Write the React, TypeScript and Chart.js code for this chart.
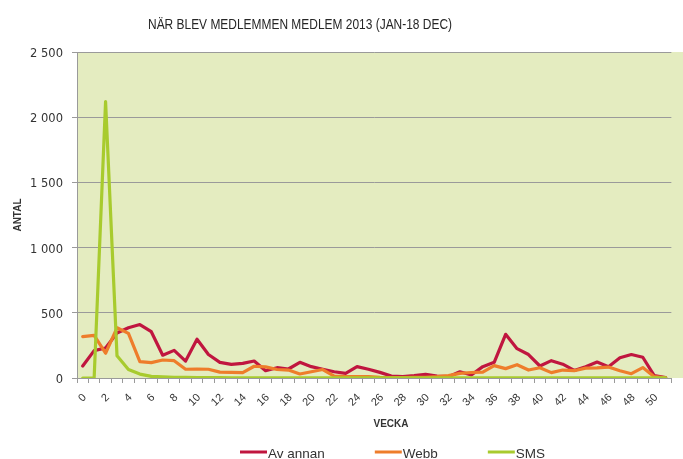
import React, { useEffect, useRef } from 'react';
import { Chart, registerables } from 'chart.js';

Chart.register(...registerables);

const weeks = ['0','1','2','3','4','5','6','7','8','9','10','11','12','13','14','15','16','17','18','19','20','21','22','23','24','25','26','27','28','29','30','31','32','33','34','35','36','37','38','39','40','41','42','43','44','45','46','47','48','49','50','51'];

const avAnnan = [92,210,230,345,385,410,355,175,212,130,297,180,120,105,112,130,56,79,69,120,87,67,48,36,87,67,43,15,10,18,28,15,10,48,23,87,120,335,225,180,92,133,106,58,87,122,87,155,180,159,18,3];
const webb = [317,327,190,385,342,125,118,138,133,67,69,67,45,43,41,90,85,65,61,31,48,65,15,10,10,10,5,3,3,5,5,10,18,35,42,45,95,72,102,61,79,41,61,56,76,77,84,56,33,80,10,2];
const sms = [0,0,2120,170,65,30,12,8,5,5,4,3,3,2,2,2,2,2,2,2,2,2,2,2,2,2,2,2,2,2,2,2,2,2,2,2,2,2,2,2,2,2,2,2,2,2,2,2,2,2,2,2];

const seriesNames = ['Av annan', 'Webb', 'SMS'];
const seriesColors = ['#C0163F', '#EE7D2B', '#A8CB2E'];

const yTickValues = [0, 500, 1000, 1500, 2000, 2500];
const yTickLabels = ['0', '500', '1 000', '1 500', '2 000', '2 500'];

const chartTitle = 'NÄR BLEV MEDLEMMEN MEDLEM 2013 (JAN-18 DEC)';
const xTitle = 'VECKA';
const yTitle = 'ANTAL';

const PLOT_BG = '#E4ECC0';
const GRID = '#9A9A9A';
const TEXT = '#333333';

const decorPlugin = {
  id: 'decor',
  beforeDraw(chart: any) {
    const { ctx, chartArea } = chart;
    ctx.save();
    ctx.fillStyle = '#ffffff';
    ctx.fillRect(0, 0, chart.width, chart.height);
    ctx.fillStyle = PLOT_BG;
    ctx.fillRect(chartArea.left, chartArea.top, chart.width - chartArea.left, chartArea.bottom - chartArea.top);
    ctx.restore();
  },
  afterDraw(chart: any) {
    const { ctx } = chart;
    ctx.save();
    // chart title (condensed look: horizontal scale of a regular font)
    ctx.fillStyle = '#262626';
    ctx.textAlign = 'center';
    ctx.textBaseline = 'alphabetic';
    ctx.font = '15px "Liberation Sans", sans-serif';
    const w = ctx.measureText(chartTitle).width;
    const sx = Math.min(1, 304 / w);
    ctx.save();
    ctx.translate(300, 29);
    ctx.scale(sx, 1);
    ctx.fillText(chartTitle, 0, 0);
    ctx.restore();
    // x axis title
    ctx.fillStyle = TEXT;
    ctx.font = 'bold 10px "Liberation Sans", sans-serif';
    ctx.textAlign = 'center';
    ctx.textBaseline = 'middle';
    ctx.fillText(xTitle, 391, 424);
    // legend
    ctx.font = '13.5px "Liberation Sans", sans-serif';
    ctx.textAlign = 'left';
    ctx.textBaseline = 'alphabetic';
    let x = 240;
    chart.data.datasets.forEach((ds: any) => {
      ctx.strokeStyle = ds.borderColor;
      ctx.lineWidth = 3;
      ctx.beginPath();
      ctx.moveTo(x, 452);
      ctx.lineTo(x + 27, 452);
      ctx.stroke();
      x += 28;
      ctx.fillStyle = TEXT;
      ctx.fillText(ds.label, x, 458);
      x += ctx.measureText(ds.label).width + 50;
    });
    ctx.restore();
  },
};

export default function App() {
  const ref = useRef<HTMLCanvasElement | null>(null);
  useEffect(() => {
    if (!ref.current) return;
    const series = [avAnnan, webb, sms];
    const chart = new Chart(ref.current, {
      type: 'line',
      data: {
        labels: weeks,
        datasets: series.map((d, i) => ({
          label: seriesNames[i],
          data: d,
          borderColor: seriesColors[i],
          backgroundColor: seriesColors[i],
          borderWidth: 3.2,
          pointRadius: 0,
          tension: 0,
          borderJoinStyle: 'round' as const,
          borderCapStyle: 'round' as const,
          order: 3 - i,
        })),
      },
      options: {
        animation: false,
        responsive: false,
        devicePixelRatio: 1,
        layout: { padding: { left: 6, top: 52, right: 2, bottom: 0 } },
        plugins: {
          legend: { display: false },
          title: { display: false },
          tooltip: { enabled: false },
        },
        scales: {
          x: {
            type: 'category',
            offset: true,
            grid: { display: true, drawOnChartArea: false, drawTicks: true, tickLength: 5, offset: true, color: GRID },
            border: { display: true, color: GRID, width: 1 },
            ticks: {
              autoSkip: false,
              maxRotation: 45,
              minRotation: 45,
              padding: 8,
              labelOffset: 2,
              color: TEXT,
              font: { family: 'Liberation Sans', size: 11 },
              callback: (_v: any, i: number) => (i % 2 === 0 ? weeks[i] : ''),
            },
            afterFit: (s: any) => { s.height = 81; },
          },
          y: {
            min: 0,
            max: 2500,
            ticks: {
              stepSize: 500,
              padding: 9,
              labelOffset: 2,
              color: TEXT,
              font: { family: 'DejaVu Sans', size: 11.5 },
              callback: (v: any) => yTickLabels[yTickValues.indexOf(Number(v))],
            },
            grid: { color: GRID, tickLength: 5, drawTicks: true },
            border: { display: true, color: GRID },
            title: {
              display: true,
              text: yTitle,
              color: TEXT,
              font: { family: 'Liberation Sans', size: 10, weight: 'bold' },
              padding: { top: 6, bottom: 0 },
            },
            afterFit: (s: any) => { s.width = 71; },
          },
        },
      },
      plugins: [decorPlugin],
    } as any);
    return () => chart.destroy();
  }, []);
  return (
    <div style={{ position: 'absolute', left: 0, top: 0, width: 683, height: 459 }}>
      <canvas ref={ref} width={683} height={459} />
    </div>
  );
}
